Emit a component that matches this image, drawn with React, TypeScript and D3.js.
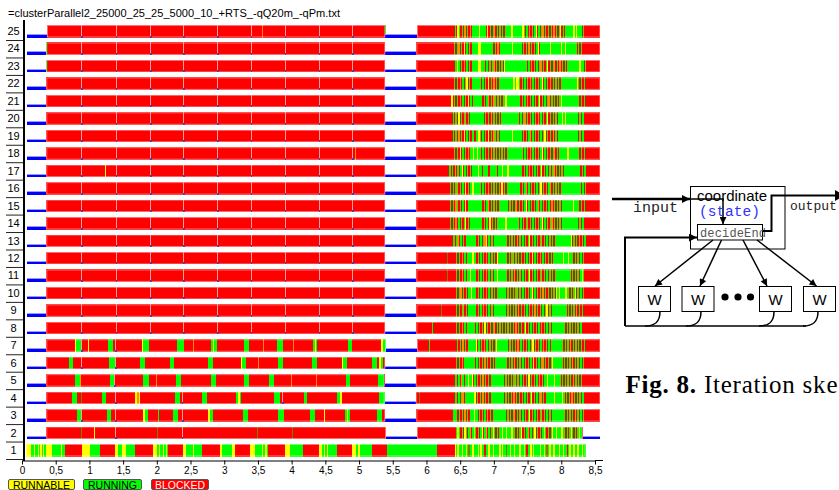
import React, { useEffect, useRef } from 'react';
import * as d3 from 'd3';

// machines / processes shown as rows, bottom = 1
const rowIds = [1, 2, 3, 4, 5, 6, 7, 8, 9, 10, 11, 12, 13, 14, 15, 16, 17, 18, 19, 20, 21, 22, 23, 24, 25];

// state codes: _ none, B idle, R blocked, G running, Y runnable, O/D mixed thin lines
// letter+number = run in 1/100 s, letter alone = 2/100 s, ">n" = until n/100 s, "|" = event split
const headCodes = [
  '_6Y8G4Y1G5Y1G2Y2G2Y2G3Y8G6Y1G7Y1G5R25Y12G15R22Y4G6Y7G13R27Y5G3Y2G4Y1G3Y2G2R22Y5G10Y1G12R27Y3G14Y5R22Y8G10Y2G3Y2G2R25Y8G2Y1G2G14R23Y5G3Y2G2Y2G3G10R22Y7G3Y2G5G13R22G74R>642',
  '_7B29R8O1R43D1R18Y1R30|R63D1R35|R19O1R92D1R51D1R102O1R35B>586R4D1R>642',
  '_7B29R45G7|R38G6R6|R42Y3G4R15G1R21G7R7|R38Y3G4R45G7R45G8R39G7R14Y1R30G3Y2G3R39G8R5B>585R>640',
  '_7B29R38G7R7D1R29G7R13|R30Y3O2Y2R52G7R3|R16D1R13G8R43G2Y3G2R49G8R4|R32G5R45G3Y4R55G8B>584R5D1R>641',
  '_7B29R43G7O1R43G6R1|R42G9R11O1R29G7R44G8R42G7R30G7R25O1R36O1R44G6R41G9R1B>584R40D1R>641',
  '_7B29R33G6Y1R12|R41G9|R37G7R18O1R19G6R50G7R42Y1G6R18O1R29G7R43G7O1R36Y2G6R7O1R29G7R4Y2G4R3B>585R11G1R>642',
  '_7B29R42G1Y1G8|R10Y1R28Y1G7R3|R40Y2G8O1R41G10R14O1R26G2Y2G4R41G7R14O1R6O1R20G8R15O1R28G3Y2G2R45G7R42Y3G5B>586R18G1R>643',
  '_7B29R52|R51|R51|R49|R51|R49|R51|R50|R50|R49B>585R>608G1R>642',
  '_7B29R52|R51|R51|R49|R51|R49|R51|R50|R50|R49B>585R>622D1R>642',
  '_7B29R52|R51|R51|R49|R51|R49|R51|R50|R50|R49B>585R>627D1R>642',
  '_7B29R52|R51|R51|R49|R51|R49|R51|R50|R50|R49B>585R>631D1R>642',
  '_7B29R52|R51|R51|R49|R51|R49|R51|R50|R50|R49B>585R>631D1R>642',
  '_7B29R52|R51|R51|R49|R51|R49|R51|R50|R50|R49B>585R>638',
  '_7B29R52|R51|R51|R49|R51|R49|R51|R50|R50|R49B>585R>633',
  '_7B29R52|R51|R51|R49|R51|R49|R51|R50|R50|R49B>585R>633',
  '_7B29R52|R51|R51|R49|R51|R30Y1R18|R51|R50|R50|R49B>585R>633',
  '_7B29R52|R35Y1R15|R51|R49|R51|R49|R51|R50|R50|R49B>585R>632',
  '_7B29R52|R51|R51|R49|R51|R49|R51|R50|R50|R4O1R44B>585R>639',
  '_7B29R52|R51|R51|R49|R51|R49|R51|R50|R50|R49B>585R>637',
  '_7B29R52|R51|R51|R49|R51|R49|R51|R50|R50|R49B>585R>637',
  '_7B29R52|R51|R51|R49|R51|R49|R51|R50|R50|R49B>585R>637',
  '_7B29R11G1R40|R51|R51|R49|R51|R49|R51|R50|R50|R49B>585R>639',
  '_7B29G1R51|R11Y1R39|R51|R49|R51|R49|R51|R50|R50|R49B>585R>641',
  '_7B29G1R51|R51|R51|R49|R51|R49|R51|R50|R50|R49B>585R>639',
  '_7B30R51|R51|R51|R49|R20Y1R30|R49|R17O1R33|R50|R50|R48G1B>586R>640',
];

// the busy phase at the end of the run, one letter per 2/100 s
const denseCodes = [
  'YGYGGYGGYGDGGYGGGYGYGGRGGYGGYGGGGYGYGGDGGYGGYGGGYGGYGRGGYGYGGGGYGGYGDGYGGYGGGYGGYGGRGYGGYGGYGGYGG',
  'RGYGRGRYGRGORGYGRGRGYRGORGRGYGRGRGGYGGYGGGYGGRGRGYRGRGORGRGYRGRGRGYGRGRGYGGYGGGYGGRGRGYGRGRGYGR',
  'GGGRGRGRORGRGGGYGGRGRGRGRORGRGGGGGGGGGGRGRGRGORGRGRGRGRGYRGRGRGRGORGRGRGRGGGGGGGGGGRGRGRGRORGRGRGR',
  'RGRGRGORGGGGGGGYRGRGRORGRGRGGGGGGGGGGRGRGRGRORGRGRGRGRGRGYRGRGRGORGRGGGGGGYGGGGGYGRGRGRORGRGRGRG',
  'RGRGROGRGGYGGYRGRGRGRORGRGRGGGGGGGGGGRGRGRGRGORGRGRGRGRYRGRGRGRORGRGGYGGGGYGGGGRGRGRGRGRORGRGRG',
  'RGRGRORGGGGGGGGRGRGRGRORGRGRGRGGGGGGGGGRGRGRORGRGRGRGRGRGRYRGRGRGORGRGRGYGGGGGGGRGRGRGRORGRGRGRG',
  'RGRGRORGRGGGGGGYRGRGRORGRGRGRGYGGGGGGGGRGRGRGRORGRGRGRGRGYRGRGRGRORGRGRGGGGGGGGGRGRGRORGRGRGRGRG',
  'RGRGRORGRGGGGGGRGRGRGRYRGRGRGORGRGRGRGRGRGRGRORGRGRGYRGRGRGRGRGRORGRGRGRGGGGGGGGGGRGRGRGRGRGRG',
  'RGRGRGORGRGGGGGGRGRGRORGRGRGRGGGGGGGGGRGRGRGRGRORGRGRGRGRGRORGRGRGRGYRGRGGGGGGGGGGGRGRGRGRORGRG',
  'RGRGORGRGRGGYGGGRGRGRGRORGRGRGRGGGGGGGRGRGRGRGORGRGRGRGRGYRGRGRGRORGRGRGRGRYGYGGGGYGGRGRGYRGRGRG',
  'RGRGRORGRGGYGGGGRGRGRGRORGRGRGGYGGGGGGGRGRGRORGRGRGRGRGYRGRGRGRGORGRGRGRGRGGGGGGGGGGGGRGRGRGRGYG',
  'RGRGRORGRGGGGYGGRGRGRGRORGRGRGRYGGGGGGGRGRGORGRGRGRGRGRGRYRGRGRORGRGRGRGRGGGGGGGYGGGYGGGRGRGRGRGR',
  'RGRGORGRGRGGGGGGGGRGRGRGOYRGRGRGGGGGGGGGGRGRGRGRORGRGRGRGYRGRGRGRGORGRGRGRGRGGGGGGGGGGGGYRGRGRORGRG',
  'RGRGRORGRGRGYRGRGGGGGGGGGRGRGRYRGRGRGGGGGGYGGGGGGGGGRGRGRGORGRGRGRGRGYRGRGRGORGRGRGRGGGGGGGGGGGGRGRG',
  'RGRGROGRGRGRYRGGGGGGGGGGGRGRGORGRGRGRGGGGGGGRGRGRGORGRGRGYRGRGRGRGORGRGRGRGRORGRGRGRGGGGGGGGYGGGGRGRG',
  'RGRGRGORGRGRYRGRGYYGGGGGRGRGRORGRGRGRGRYRGRGGGGGGGGGGRGRGORGRGRGRGRGYRGRGRGORGRGRGRGGGGGGGGGGGGGGGRGRG',
  'RGRGRORGRGYRGRGRGRGGGGYGGRGGGGRGGGGGRGGGYGGGYGGGGGGGGGGRGRGRORGRGRGRGYRGRGRGRGORGRGRGRGGGGGGGGGGGGRGRG',
  'RGRGRYRGRGRORGGYGGYGGRGRGRGRORGRGRGRGRGRGGGGGGGGGGGGRGRGRORGRGRGRGYRGRGRGRGORGRGGGGGGYGGGGGGGGRGRG',
  'RGRGRORGRYRGRGRGGRGGYGRGRGRYRGROGRGRGGGGGGGGGYGGGGGGRGRGRGORGRGRGRGRGYRGRGRORGRGGGGGGGGGGGGGGGRGRG',
  'RGRGRYRGRGORGRGGGGGGGGGGRGRGRORGRGRGRGGGGGGGGGGGGGRGRGORGRGRGRGRORGRGRGYRGRGRGRGGGYGYGGGGGGGGGRGRG',
  'YRGRGRORGRGRYRGRGGGGGGGRGRGORGROGRGRGRGGYGGGGGGGGGGRGRGRORGRGRGRGYRGRGRGORGRGRGRGYGGGGGGGGGGGGGRGRG',
  'RGRGRORGRGYRGRGGGGGGGRGRGRYRGRORGRGGGGGGGGGGGYGYYGRGRGRGRORGRGRGRGYRGRGRORGRGRGRGGGGGGGGGGGGYGRGRG',
  'RGYGRGRORGRGRGGGGGYYGGGRGRGRGORGRGRGRYGGGGGGGGGGGGGGGGRGRORGRGRGORGRGYRGRGORGRORGRGRGGGGGGGGGYGGRG',
  'RGRGORGRYRGRGRGGGGGYYGGGGGGGGGRGRORGGGGGGGGGYGGGGGGRGRGRORGRGRGYRGGGGGGGYGGGGGGGYGGYGGGGGGGGRGRG',
  'RGRYGRGRORGRORGGGGGYGGGGRYRGRGORGRGRGRGGGGGYGGGGGGGYGRGRORGRGYRGRGORGRGRGRORGRGYRGRGGGGGGYGYGGGRG',
];

const tailCodes = [
  '', 'B>858', 'R>858', 'R>858', 'R>858', 'R>858', 'R>858', 'R>858', 'R>858', 'R>858',
  'R>858', 'R>858', 'R>858', 'R>858', 'R>858', 'R>858', 'R>858', 'R>858', 'R>858', 'R>858',
  'R>858', 'R>858', 'R>858', 'R>858', 'R>858',
];

const xTickValues = [0, 0.5, 1, 1.5, 2, 2.5, 3, 3.5, 4, 4.5, 5, 5.5, 6, 6.5, 7, 7.5, 8, 8.5];
const xTickLabels = ['0', '0,5', '1', '1,5', '2', '2,5', '3', '3,5', '4', '4,5', '5', '5,5', '6', '6,5', '7', '7,5', '8', '8,5'];

const legendLabels = ['RUNNABLE', 'RUNNING', 'BLOCKED'];
const legendStates = ['Y', 'G', 'R'];

const title = '=clusterParallel2_25000_25_25_5000_10_+RTS_-qQ20m_-qPm.txt';

const stateColor: Record<string, string> = {
  R: '#ff0000',
  G: '#00ff00',
  Y: '#ffff00',
  O: '#ff8c00',
  D: '#7f7d00',
};

type Seg = { s: string; t0: number; t1: number };

function parseRow(code: string) {
  const segs: Seg[] = [];
  const marks: number[] = [];
  const re = /([_BRGYOD|])(>?)(\d*)/g;
  let t = 0;
  let m: RegExpExecArray | null;
  while ((m = re.exec(code)) !== null) {
    const s = m[1];
    if (s === '|') {
      marks.push(t / 100);
      continue;
    }
    const n = m[3] === '' ? 2 : +m[3];
    const end = m[2] === '>' ? n : t + n;
    if (end > t) segs.push({ s, t0: t / 100, t1: end / 100 });
    t = Math.max(t, end);
  }
  return { segs, marks };
}

const W = 839;
const H = 490;
const barH = 12.5;

const x = d3.scaleLinear().domain([0, 8.5]).range([22, 595]);
const rowY = d3.scaleLinear().domain([25, 1]).range([25, 444]);

const sans = 'Liberation Sans, Arial, sans-serif';
const mono = 'Liberation Mono, DejaVu Sans Mono, monospace';

const Row = ({ id, code }: { id: number; code: string }) => {
  const { segs, marks } = parseRow(code);
  const top = rowY(id);
  // contiguous coloured spans get the light edge
  const spans: { t0: number; t1: number }[] = [];
  let cur: { t0: number; t1: number } | null = null;
  segs.forEach((sg) => {
    if (sg.s === '_' || sg.s === 'B') {
      cur = null;
      return;
    }
    if (cur && Math.abs(cur.t1 - sg.t0) < 1e-9) cur.t1 = sg.t1;
    else {
      cur = { t0: sg.t0, t1: sg.t1 };
      spans.push(cur);
    }
  });

  return (
    <g>
      <g shapeRendering="crispEdges">
        {segs.map((sg, i) => {
          const x0 = x(sg.t0);
          const w = x(sg.t1) - x0;
          if (sg.s === '_') return null;
          if (sg.s === 'B') {
            return (
              <g key={i}>
                <rect x={x0} y={top + barH - 3.5} width={w} height={1} fill="#9a9aff" />
                <rect x={x0} y={top + barH - 2.5} width={w} height={2.5} fill="#0000ff" />
              </g>
            );
          }
          return (
            <rect
              key={i}
              x={x0}
              y={top}
              width={sg.s === 'R' ? w : Math.max(w, 1)}
              height={barH}
              fill={stateColor[sg.s]}
            />
          );
        })}
      </g>
      {spans.map((sp, i) => (
        <rect
          key={'o' + i}
          x={x(sp.t0) + 0.5}
          y={top + 0.5}
          width={x(sp.t1) - x(sp.t0) - 1}
          height={barH - 1}
          fill="none"
          stroke="rgba(255,255,255,0.45)"
          strokeWidth={1}
        />
      ))}
      {marks.map((t, i) => (
        <g key={'m' + i} shapeRendering="crispEdges">
          <rect x={x(t)} y={top} width={1} height={barH} fill="#ff9c9c" />
          <rect x={x(t)} y={top + barH - 2} width={1.5} height={2} fill="#4040c0" />
        </g>
      ))}
    </g>
  );
};

const Diagram = () => (
  <g>
    <defs>
      <marker id="arrBig" viewBox="0 0 10 10" refX="10" refY="5" markerWidth="9" markerHeight="8" markerUnits="userSpaceOnUse" orient="auto">
        <path d="M0,0L10,5L0,10z" fill="#000" />
      </marker>
      <marker id="arrSmall" viewBox="0 0 10 10" refX="10" refY="5" markerWidth="8" markerHeight="7" markerUnits="userSpaceOnUse" orient="auto">
        <path d="M0,0L10,5L0,10z" fill="#000" />
      </marker>
    </defs>
    <rect x={690.5} y={186.5} width={94.5} height={62.5} fill="#fff" stroke="#000" strokeWidth={1} />
    <line x1={612} y1={199} x2={690} y2={199} stroke="#000" strokeWidth={2.5} markerEnd="url(#arrBig)" />
    <polyline points="690,199 723,199 723,224" fill="none" stroke="#000" strokeWidth={1.5} markerEnd="url(#arrSmall)" />
    <text x={697} y={201} fontFamily={sans} fontSize={15} fill="#000">coordinate</text>
    <text x={699} y={216} fontFamily={mono} fontSize={14.5} fill="#3030ff">(state)</text>
    <rect x={697.5} y={224.5} width={65} height={15.5} fill="#fff" stroke="#000" strokeWidth={1} />
    <text x={700} y={236.5} fontFamily={mono} fontSize={12} fill="#555" textLength={66} lengthAdjust="spacing">decideEnd</text>
    <polyline points="763,231 771.5,231 771.5,195.5 836,195.5" fill="none" stroke="#000" strokeWidth={2} />
    <path d="M835,190L845,195.5L835,201z" fill="#000" />
    <text x={633} y={212} fontFamily={mono} fontSize={15} fill="#222">input</text>
    <text x={790} y={210} fontFamily={mono} fontSize={13} fill="#222">output</text>
    <polyline points="625,326 625,237.5 697,237.5" fill="none" stroke="#000" strokeWidth={2} markerEnd="url(#arrBig)" />
    <line x1={625} y1={326} x2={806} y2={326} stroke="#000" strokeWidth={1.5} />
    {[
      [638.5, 660],
      [682, 701],
      [759.5, 774],
      [803.5, 818],
    ].map(([bx, cx], i) => (
      <g key={i}>
        <path d={`M${cx},311.5 C${cx},322 ${cx - 5},326 ${cx - 15},326`} fill="none" stroke="#000" strokeWidth={1.5} />
        <rect x={bx} y={286.5} width={32} height={25} fill="#fff" stroke="#000" strokeWidth={1} />
        <text x={bx + 16} y={305} textAnchor="middle" fontFamily={sans} fontSize={15} fill="#000">W</text>
      </g>
    ))}
    {[
      [713, 655],
      [721.5, 700],
      [743, 767],
      [757, 816.5],
    ].map(([x0, x1], i) => (
      <line key={i} x1={x0} y1={240} x2={x1} y2={286} stroke="#000" strokeWidth={1.5} markerEnd="url(#arrSmall)" />
    ))}
    {[725, 738, 750.5].map((cx) => (
      <circle key={cx} cx={cx} cy={297} r={3.6} fill="#000" />
    ))}
    <text
      x={625.5}
      y={393}
      fontFamily="Liberation Serif, serif"
      fontSize={25}
      fill="#000"
      textLength={212}
      lengthAdjust="spacing"
    >
      <tspan fontWeight="bold">Fig. 8.</tspan> Iteration ske
    </text>
  </g>
);

const App = () => {
  const axisRef = useRef<SVGGElement>(null);

  useEffect(() => {
    document.body.style.margin = '0';
    const g = d3.select(axisRef.current);
    g.selectAll('*').remove();
    g.call(
      d3
        .axisBottom(x)
        .tickValues(xTickValues)
        .tickFormat((d, i) => xTickLabels[i])
        .tickSize(4)
        .tickSizeOuter(0)
        .tickPadding(2)
    );
    g.select('.domain').attr('stroke', '#000');
    g.selectAll('.tick line').attr('stroke', '#000');
    g.selectAll('text').attr('font-family', sans).attr('font-size', 10).attr('fill', '#000');
  }, []);

  const legendX = [8, 83, 151];
  const legendW = [66, 58, 57];

  return (
    <svg width={W} height={H} style={{ position: 'absolute', left: 0, top: 0, display: 'block', background: '#fff' }}>
      <rect width={W} height={H} fill="#fff" />
      <text x={8} y={16.5} fontFamily={sans} fontSize={10} fill="#000" textLength={332} lengthAdjust="spacingAndGlyphs">
        {title}
      </text>

      {rowIds.map((id, i) => (
        <Row key={id} id={id} code={headCodes[i] + denseCodes[i] + tailCodes[i]} />
      ))}

      {rowIds.map((id) => (
        <g key={'l' + id}>
          <text x={13.5} y={rowY(id) + 10} textAnchor="middle" fontFamily={sans} fontSize={11} fill="#000">
            {id}
          </text>
          <line x1={6} x2={23} y1={rowY(id) + 15.5} y2={rowY(id) + 15.5} stroke="#222" strokeWidth={1} />
        </g>
      ))}

      <rect x={23} y={20} width={2} height={441} fill="#000" />
      <g ref={axisRef} transform="translate(0,460.5)" />
      <line x1={595} x2={603} y1={460.5} y2={460.5} stroke="#000" />

      {legendLabels.map((lab, i) => (
        <g key={lab}>
          <rect x={legendX[i] + 0.5} y={479.5} width={legendW[i]} height={10} rx={1.5} fill={stateColor[legendStates[i]]} stroke="#555" />
          <text
            x={legendX[i] + legendW[i] / 2 + 0.5}
            y={488.5}
            textAnchor="middle"
            fontFamily={sans}
            fontSize={10.5}
            fill={legendStates[i] === 'R' ? '#fff0f0' : '#000'}
          >
            {lab}
          </text>
        </g>
      ))}

      <Diagram />
    </svg>
  );
};

export default App;
